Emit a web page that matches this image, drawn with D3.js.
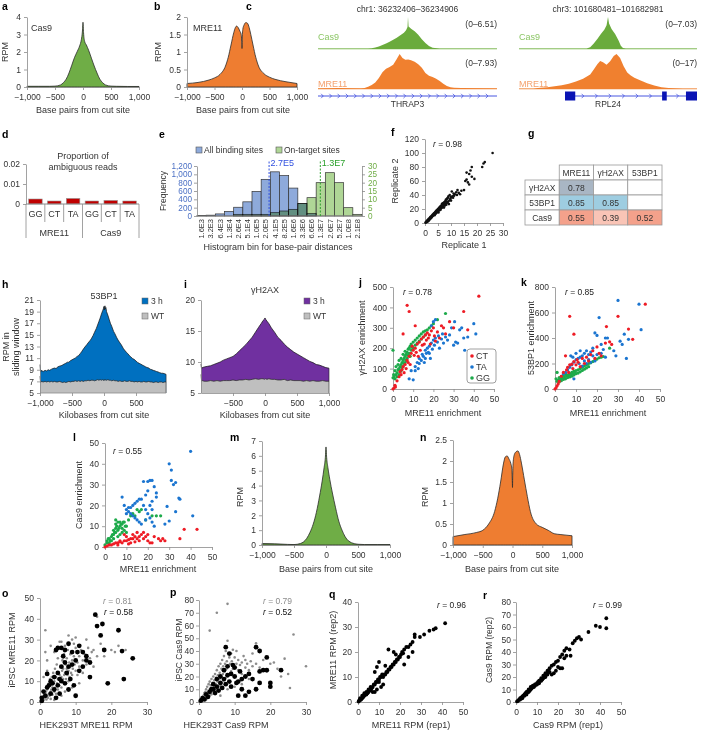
<!DOCTYPE html>
<html><head><meta charset="utf-8">
<script src="https://cdn.jsdelivr.net/npm/d3@7"></script>
<style>
body{margin:0;background:#fff}
svg{font-family:"Liberation Sans",Arial,sans-serif}
.ax .domain,.ax line{stroke:#8a8a8a;stroke-width:0.8}
.ax text{font-size:8.5px;fill:#333;font-family:"Liberation Sans",Arial,sans-serif}
.t{font-size:8.5px;fill:#333}
</style></head><body><script>
// ================= DATA =================
// a: Cas9 profile [bp, RPM]
const aCurve=[[-1000,0.04],[-800,0.04],[-600,0.04],[-500,0.05],[-400,0.12],[-350,0.25],[-300,0.45],[-250,0.8],[-200,1.25],[-150,1.7],[-100,2.05],[-60,2.35],[-30,2.7],[-10,3.2],[0,3.7],[10,3.1],[30,2.6],[60,2.4],[100,2.1],[150,1.65],[200,1.2],[250,0.8],[300,0.45],[350,0.25],[400,0.12],[500,0.05],[600,0.04],[800,0.03],[1000,0.03]];
// b: MRE11 profile
const bCurve=[[-1000,0.1],[-800,0.13],[-600,0.2],[-500,0.26],[-400,0.36],[-300,0.6],[-250,0.85],[-200,1.2],[-150,1.55],[-120,1.7],[-100,1.74],[-70,1.7],[-40,1.6],[-15,1.5],[-5,1.3],[0,1.1],[5,1.4],[15,1.65],[40,1.78],[70,1.84],[100,1.82],[130,1.7],[160,1.5],[200,1.2],[250,0.85],[300,0.6],[400,0.38],[500,0.28],[600,0.22],[800,0.15],[1000,0.1]];
// c: genome browser tracks [bp offset in 2,500-bp window, RPM]
const cTitles=["chr1: 36232406–36234906","chr3: 101680481–101682981"];
const cRanges=[["(0–6.51)","(0–7.93)"],["(0–7.03)","(0–17)"]];
const cMax=[[6.51,7.93],[7.03,17]];
const cGenes=["THRAP3","RPL24"];
const cCas1=[[0,0.1],[300,0.1],[500,0.12],[700,0.1],[750,0.15],[800,0.3],[850,0.5],[900,0.8],[950,1.1],[1000,1.5],[1050,1.9],[1100,2.3],[1150,2.8],[1200,3.3],[1230,3.8],[1250,4.5],[1257,6.51],[1265,4.6],[1300,4.1],[1350,3.6],[1400,2.9],[1450,2.0],[1500,1.2],[1550,0.6],[1600,0.25],[1700,0.12],[1900,0.1],[2200,0.12],[2500,0.1]];
const cMre1=[[0,0.15],[300,0.2],[600,0.15],[650,0.25],[700,0.5],[750,0.9],[800,1.5],[850,2.5],[900,3.8],[950,4.6],[1000,5.0],[1050,5.5],[1100,6.8],[1140,7.93],[1180,7.0],[1220,6.6],[1260,6.7],[1300,6.5],[1350,6.2],[1400,5.6],[1450,4.8],[1500,3.6],[1550,3.0],[1600,2.7],[1650,2.3],[1700,1.8],[1750,1.2],[1800,0.7],[1850,0.4],[1900,0.3],[2000,0.2],[2500,0.15]];
const cCas2=[[0,0.1],[500,0.12],[950,0.1],[1000,0.4],[1050,1.2],[1100,2.2],[1150,3.3],[1200,4.3],[1230,5.2],[1250,7.03],[1265,5.6],[1300,4.4],[1350,3.3],[1400,1.8],[1430,0.7],[1460,0.2],[1500,0.1],[2000,0.12],[2500,0.1]];
const cMre2=[[0,0.2],[200,0.3],[300,0.6],[400,0.9],[500,1.3],[600,1.8],[700,2.6],[800,3.6],[900,5.0],[1000,7.0],[1050,9.5],[1100,12.0],[1140,13.6],[1180,13.0],[1230,11.8],[1280,13.5],[1330,16.0],[1370,17.0],[1420,15.0],[1470,11.0],[1520,8.0],[1570,6.5],[1620,5.5],[1700,4.2],[1800,2.8],[1900,1.7],[2000,0.9],[2100,0.5],[2200,0.35],[2300,0.3],[2500,0.25]];
const cGene2Span=[646,2500];
const cGene2Exons=[[646,790],[2010,2075],[2345,2500]];
// d
const dCats=["GG","CT","TA","GG","CT","TA"];
const dGroups=["MRE11","Cas9"];
const dVals=[0.0025,0.0015,0.0028,0.0015,0.0018,0.0015];
// e
const eBins=["1.6E3","3.2E3","6.4E3","1.3E4","2.6E4","5.1E4","1.0E5","2.0E5","4.1E5","8.2E5","1.6E6","3.3E6","6.6E6","1.3E7","2.6E7","5.2E7","1.0E8","2.1E8"];
const eFirstBin=1638.4;
const eAll=[10,20,50,110,210,340,590,880,1060,970,670,300,60,0,0,0,0,0];
const eOn=[0,0,0,0,1,1,1,1,2,3,4,7.5,11,20,26,20,5,1];
const eMarks=[["2.7E5",2.7e5],["1.3E7",1.3e7]];
// f
const fPts=[[0.2,0.5],[0.4,1],[0.5,2],[0.7,1.5],[0.8,3],[1,2],[1,4],[1.2,5],[1.3,3],[1.5,4],[1.5,6],[1.7,5],[1.8,7],[2,6],[2,8],[2.2,9],[2.3,7],[2.5,8],[2.5,10],[2.7,9],[2.8,11],[3,10],[3,12],[3.2,11],[3.3,13],[3.5,12],[3.5,14],[3.7,11],[3.8,15],[4,13],[4,16],[4.2,14],[4.3,17],[4.5,15],[4.5,18],[4.7,16],[4.8,19],[5,17],[5,20],[5.2,15],[5.3,21],[5.5,18],[5.5,22],[5.7,20],[5.8,23],[6,19],[6,24],[6.2,21],[6.3,25],[6.5,22],[6.5,27],[6.7,23],[6.8,28],[7,24],[7,26],[7.2,29],[7.3,22],[7.5,27],[7.5,30],[7.7,25],[7.8,31],[8,28],[8,33],[8.2,26],[8.3,34],[8.5,30],[8.5,35],[8.7,29],[8.8,36],[9,31],[9,38],[9.2,27],[9.5,33],[9.5,40],[9.8,35],[10,32],[10,37],[10.3,45],[10.5,38],[10.8,36],[11,42],[11.2,39],[11.5,41],[12,44],[12.3,40],[12.5,47],[13,43],[13.5,41],[14,46],[15,47],[15.5,60],[16,62],[16,72],[16.5,58],[17,55],[17,70],[17.5,75],[18,66],[18,80],[19,63],[22,80],[22.5,85],[23,87],[26,100]];
// g
const gCols=["MRE11","γH2AX","53BP1"];
const gRows=["γH2AX","53BP1","Cas9"];
const gVals=[[0.78,null,null],[0.85,0.85,null],[0.55,0.39,0.52]];
// h: [kb, 3 h, WT]
const hData=[[-1000,9.9,7.9],[-995,9.2,7.3],[-990,8.6,6.8],[-980,8.9,7.0],[-950,8.7,6.9],[-920,8.9,7.0],[-900,8.8,6.9],[-870,9.0,7.0],[-850,8.9,6.9],[-820,9.1,7.0],[-800,9.2,6.9],[-770,9.3,7.0],[-750,9.2,6.9],[-720,9.5,6.9],[-700,9.6,7.0],[-670,9.7,6.9],[-650,9.8,6.8],[-620,10.0,6.9],[-600,10.1,6.8],[-570,10.3,6.9],[-550,10.3,7.0],[-520,10.6,6.9],[-500,10.7,7.0],[-470,10.9,7.0],[-450,11.0,7.1],[-420,11.3,7.0],[-400,11.4,7.1],[-370,11.8,7.0],[-350,12.1,7.1],[-320,12.6,7.0],[-300,12.9,7.1],[-270,13.3,7.1],[-250,13.6,7.2],[-220,14.0,7.1],[-200,14.3,7.2],[-170,14.9,7.2],[-150,15.4,7.1],[-120,16.1,7.2],[-100,16.7,7.3],[-80,17.3,7.2],[-60,17.9,7.3],[-40,18.6,7.2],[-20,19.2,7.3],[-10,19.5,7.2],[0,19.9,7.2],[5,19.3,7.3],[10,19.6,7.2],[15,20.0,7.2],[20,19.5,7.3],[30,19.7,7.2],[40,19.0,7.2],[60,18.4,7.3],[80,17.7,7.2],[100,17.0,7.2],[120,16.5,7.1],[150,15.6,7.2],[170,15.2,7.1],[200,14.5,7.1],[220,14.1,7.0],[250,13.6,7.1],[270,13.3,7.0],[300,12.7,7.0],[320,12.4,7.1],[350,12.0,7.0],[370,11.8,7.0],[400,11.4,7.1],[420,11.2,7.0],[450,10.9,7.0],[470,10.8,6.9],[500,10.5,7.0],[520,10.3,6.9],[550,10.1,7.0],[570,10.0,6.9],[600,9.8,6.9],[620,9.7,7.0],[650,9.5,6.9],[670,9.4,6.9],[700,9.3,7.0],[720,9.1,6.9],[750,9.0,6.9],[770,8.9,6.8],[800,8.8,6.9],[820,8.7,6.9],[850,8.6,6.8],[870,8.5,6.9],[900,8.4,6.9],[920,8.4,6.8],[950,8.3,6.9],[970,8.2,6.9]];
// i: [kb, 3 h, WT]
const iData=[[-1000,9.7,8.0],[-995,9.2,7.4],[-990,8.9,6.9],[-980,9.1,7.0],[-950,9.2,6.9],[-900,9.3,6.9],[-850,9.4,7.0],[-800,9.6,6.9],[-750,9.8,7.0],[-700,10.0,6.9],[-650,10.3,7.0],[-600,10.5,7.0],[-550,10.7,7.0],[-500,10.9,7.1],[-450,11.3,7.0],[-400,11.8,7.1],[-350,12.3,7.1],[-300,12.8,7.2],[-250,13.4,7.1],[-200,14.0,7.2],[-150,14.8,7.3],[-100,15.6,7.2],[-60,16.2,7.3],[-30,16.7,7.3],[-10,16.9,7.2],[0,17.1,7.3],[10,16.9,7.3],[30,16.6,7.2],[60,16.2,7.3],[100,15.5,7.2],[150,14.8,7.2],[200,14.0,7.1],[250,13.5,7.1],[300,12.9,7.2],[350,12.4,7.0],[400,12.0,7.1],[450,11.6,7.0],[500,11.3,7.0],[550,11.0,7.0],[600,10.7,6.9],[650,10.4,7.0],[700,10.1,6.9],[750,9.9,7.0],[800,9.6,6.9],[850,9.5,6.9],[900,9.3,7.0],[950,9.1,6.9],[1000,9.0,6.9]];
// j: MRE11 vs γH2AX enrichment
const jCT=[[0,0],[0.5,5],[1,18],[1.2,10],[2,40],[3,60],[3.5,85],[4,70],[4.5,95],[5,270],[5,110],[5.5,80],[6,120],[6.5,100],[7,410],[7,140],[7.5,130],[8,380],[8,160],[8.5,120],[9,175],[9.5,210],[10,190],[10.5,165],[11,310],[11,200],[11.5,180],[12,220],[12.5,160],[13,230],[13.5,190],[14,245],[14.5,215],[15,255],[15.5,220],[16,265],[16.5,240],[17,275],[17.5,250],[18,265],[18.5,220],[19,285],[20,300],[20.5,260],[21,235],[22,280],[23,250],[24,310],[25,300],[26,270],[28,330],[30,300],[35,380],[37,290],[42.5,455]];
const jTA=[[8,50],[9,90],[10,45],[11,110],[12,130],[12.5,100],[13,150],[14,140],[14.5,170],[15,160],[15.5,130],[16,190],[16.5,175],[17,200],[17.5,180],[18,210],[18.5,150],[19,225],[19.5,195],[20,240],[20.5,215],[21,250],[21,340],[22,230],[22.5,260],[23,200],[24,245],[24.5,270],[25,225],[26,255],[27,240],[28,265],[29,300],[30,215],[30.5,330],[31,230],[32,225],[33,290],[34,300],[35,250],[35.5,190],[37,255],[40,320],[41,270],[20,330],[19,310],[13,125],[11,90],[16,150],[18,175]];
const jGG=[[0,190],[0,55],[0.3,70],[0.5,60],[1,50],[1,90],[1.5,70],[1.5,110],[2,80],[2,60],[2.5,95],[2.5,120],[3,100],[3,70],[3,140],[3.5,110],[3.5,85],[4,120],[4,90],[4,150],[4.5,130],[4.5,105],[5,140],[5,110],[5,170],[5.5,150],[5.5,125],[6,160],[6,130],[6,185],[6.5,170],[6.5,140],[7,180],[7,150],[7.5,195],[7.5,165],[8,200],[8,175],[8.5,210],[8.5,160],[9,220],[9,190],[9.5,205],[10,230],[10,200],[11,240],[11,215],[12,250],[12,225],[13,260],[13,235],[14,270],[14,245],[15,280],[15,255],[16,285],[16,265],[17,290],[18,300],[19,310],[20,320],[22,340],[26,370]];
// k: MRE11 vs 53BP1 enrichment
const kCT=[[0,0],[0.5,10],[1,25],[1.5,40],[2,60],[3,100],[4,130],[5,260],[5.5,150],[6,170],[6.5,130],[7,570],[7,190],[8,195],[8.5,160],[9,430],[9,215],[10,190],[10.5,230],[11,210],[12,175],[13,240],[14,200],[15,250],[16,220],[17,270],[18,300],[19,240],[20,330],[21,280],[22,260],[24,360],[24.5,490],[26,370],[27,350],[30,570],[35,470],[37,390],[43,665]];
const kTA=[[4,120],[5,130],[6,150],[7,170],[7.5,260],[8,190],[8.5,250],[9,80],[9,210],[10,230],[10,280],[11,240],[11.5,200],[12,250],[12,300],[13,260],[13,180],[14,280],[14,220],[15,300],[15,200],[16,270],[16,230],[17,290],[17,210],[18,320],[18,260],[19,440],[19,220],[20,420],[20,270],[21,560],[22,350],[22,280],[23,310],[24,400],[24,250],[25,400],[28,300],[29,260],[30,695],[31,375],[32,350],[33,430],[34,240],[35,390],[40,665],[41,465]];
const kGG=[[0.5,80],[1,130],[1,60],[1.5,70],[2,90],[2,55],[2.5,75],[3,100],[3,65],[3.5,85],[4,110],[4,75],[4.5,95],[5,120],[5,80],[5.5,105],[6,110],[6,90],[6.5,100],[7,120],[7,95],[7.5,110],[8,130],[8,100],[8.5,120],[9,140],[9,110],[9.5,130],[10,145],[10,120],[11,150],[11,125],[12,160],[12,135],[13,170],[13,145],[14,180],[14,155],[15,190],[15,165],[16,200],[16,175],[17,205],[18,215],[19,225],[20,235],[21,245],[22,250],[23,255],[26,320]];
// l: MRE11 vs Cas9 enrichment
const lTA=[[8,24],[9,20],[10,18],[10,16],[11,19],[11,17],[12,19],[12,16],[13,20],[13,15],[14,21],[14,14],[15,22],[15,13],[16,23],[16,12],[17,23],[17,11],[18,31.5],[18,20],[19,25],[19,18],[19,13],[20,31.5],[20,27],[20,16],[21,32],[21,20],[21,14],[22,32],[22,22],[22,18],[22,12],[23,29],[23,10],[24,26],[24,24],[28,11],[29,19.5],[30,40],[30,12.5],[31,37],[31,32],[32,30],[33,31],[33,17],[34.5,23.5],[35,23],[40,46],[41,15]];
const lGG=[[0,1],[1,2],[1,3],[1.5,4],[2,2],[2,4],[2.5,3],[3,3],[3,5],[3.5,6],[4,4],[4,6],[4,8],[4.5,7],[5,7],[5,9],[5,11],[5,13],[5.5,10],[6,5],[6,8],[6,12],[6.5,9],[7,6],[7,10],[7,12],[7.5,11],[8,7],[8,9],[8,11],[8.5,12],[9,8],[9,12],[9.5,10],[10,7],[10,10],[11,13],[12,15],[13,16],[14,15],[15,18],[16,17],[17,18],[19,13],[22,15],[24,15],[26,15]];
const lCT=[[0,0],[1,0.5],[2,1],[3,1],[4,1.5],[5,2],[6,1],[6,2],[7,2.5],[7,3],[8,2],[9,3],[9,6],[10,3],[10,5],[11,1.5],[11,3.5],[12,2],[12,4],[13,4],[13,6],[14,2.5],[14,5],[15,4],[15,7],[16,3],[16,5],[17,6],[18,4],[18,7],[19,5],[20,3],[20,6],[21,2],[22,2],[23,5],[25,4],[26,3],[27,4],[28,3],[35,4],[37,8.5],[43,8.5]];
// m, n: profiles
const mCurve=[[-1000,0.1],[-800,0.08],[-600,0.04],[-500,0.03],[-400,0.1],[-300,0.45],[-250,0.85],[-200,1.4],[-150,2.2],[-100,3.3],[-60,4.3],[-30,5.2],[-10,5.9],[0,6.6],[10,5.9],[30,5.2],[60,4.4],[100,3.5],[150,2.5],[200,1.6],[250,1.0],[300,0.55],[400,0.15],[500,0.05],[600,0.03],[800,0.03],[1000,0.03]];
const nCurve=[[-1000,0.2],[-800,0.25],[-700,0.27],[-600,0.3],[-500,0.35],[-400,0.5],[-300,0.8],[-250,1.1],[-200,1.5],[-150,1.95],[-120,2.1],[-90,2.12],[-60,2.05],[-30,1.95],[-10,1.8],[-3,1.5],[0,1.37],[3,1.6],[10,1.95],[30,2.15],[60,2.22],[90,2.24],[120,2.15],[150,1.95],[200,1.55],[250,1.15],[300,0.8],[400,0.5],[500,0.42],[600,0.35],[700,0.27],[800,0.25],[1000,0.22]];
// o: HEK293T vs iPSC MRE11 RPM
const oGrey=[[0.2,0.3],[0.4,0.8],[0.5,1.5],[0.7,0.5],[0.8,2],[1,1],[1,3],[1.2,1.8],[1.3,4],[1.5,2.5],[1.5,34.5],[1.5,24],[1.7,5],[1.8,1.2],[2,3],[2,6],[2,20],[2.2,2],[2.3,7],[2.5,4],[2.5,9],[2.7,3],[2.8,11],[3,5],[3,8],[3,27],[3.2,6],[3.3,12],[3.5,3.5],[3.5,7],[3.7,14],[3.8,9],[4,5],[4,10],[4,24],[4.2,16],[4.3,7],[4.5,12],[4.5,4],[4.7,18],[4.8,9],[5,6],[5,11],[5,21],[5.2,14],[5.3,8],[5.5,13],[5.5,29],[5.7,17],[5.8,10],[6,7],[6,12],[6,29],[6.2,15],[6.3,20],[6.5,11],[6.5,16],[6.7,23],[6.8,13],[7,9],[7,14],[7,27],[7.2,18],[7.3,11],[7.5,16],[7.5,21],[7.7,13],[7.8,25],[8,10],[8,15],[8,32],[8.2,19],[8.3,12],[8.5,17],[8.5,23],[8.7,14],[9,13],[9,20],[9,30],[9.2,16],[9.5,22],[9.5,28],[9.7,18],[10,15],[10,26],[10,31],[10.5,19],[10.5,13],[11,22],[11,17],[11.5,25],[12,20],[12,14],[12.5,23],[13,18],[13,30],[13.5,26],[14,21],[14.5,24],[15,25],[15,17],[16,41],[16,22],[17,28],[18,22],[20,25],[21,24],[22,27],[24,25],[4,1],[3,1.5],[6,3],[7,5],[9,7],[11,9],[2,15],[1,12]];
const oBlack=[[0.5,0.5],[0.5,2],[1,5],[1.5,3],[2,7],[2,13.5],[2.5,8],[3,4],[3,10],[3.5,9],[4,6],[4,12],[4.5,2],[4.5,25],[5,8],[5,14],[5,26],[5.5,4],[5.5,11],[6,10],[6,17],[6,26],[6.5,22],[7,9],[7,19],[7,25],[7.5,14],[8,6],[8,17],[8,28],[8.5,11],[9,18],[9,24],[9.5,8],[10,3],[10,20],[10.5,24],[11,15],[11,27],[12,17],[12,24],[13,20],[13,22],[14,12],[14,19],[15.5,42],[16,36.5],[17,32],[17.5,37.5],[18,25],[19,9],[22,34.5],[23,24.5],[23.5,11],[26,21]];
// p: HEK293T vs iPSC Cas9 RPM
const pGrey=[[0.2,0.3],[0.4,1],[0.5,2],[0.7,0.5],[0.8,3],[1,1.5],[1,4],[1.2,2.5],[1.3,5],[1.5,3],[1.5,7],[1.7,4],[1.8,8],[2,2],[2,5],[2,10],[2.2,6],[2.3,12],[2.5,4],[2.5,8],[2.7,14],[2.8,7],[3,5],[3,10],[3,16],[3,56],[3.2,9],[3.3,13],[3.5,6],[3.5,18],[3.7,11],[3.8,15],[4,8],[4,20],[4.2,12],[4.3,17],[4.5,9],[4.5,22],[4.7,14],[4.8,19],[5,10],[5,25],[5,70],[5.2,16],[5.3,21],[5.5,12],[5.5,28],[5.7,18],[5.8,23],[6,13],[6,30],[6.2,20],[6.3,26],[6.5,15],[6.5,33],[6.7,22],[6.8,28],[7,17],[7,36],[7.2,24],[7.3,30],[7.5,19],[7.5,40],[7.7,26],[7.8,32],[8,20],[8,48],[8,77],[8.2,28],[8.5,35],[8.5,22],[8.7,30],[9,24],[9,38],[9.2,32],[9.5,26],[9.5,41],[10,28],[10,35],[10.5,30],[10.5,40],[11,25],[11,33],[11.5,29],[12,31],[12,22],[12.5,36],[13,27],[13,33],[13.5,30],[14,25],[14.5,32],[15,28],[15,38],[16,46],[16,30],[17,27],[18,33],[19,24],[20,30],[21,31],[22,26],[23,20],[24,34],[25,22],[25.5,11],[26.5,53],[30,28],[6,5],[8,10],[10,12],[12,14],[14,18]];
const pBlack=[[0.5,1],[1,3],[1.5,2],[2,6],[2.5,4],[3,8],[3.5,10],[4,10],[4,14],[4.5,7],[5,12],[5,18],[5.5,9],[6,15],[6,20],[6.5,11],[7,18],[7,25],[7.5,43],[7.5,14],[8,21],[8,28],[8.5,38],[8.5,16],[9,22],[9,12],[9.5,29],[10,20],[10,27],[10.5,15],[11,16],[11,5],[11.5,24],[12,18],[12,10],[13,20],[13,5],[14,8],[14,22],[15,18],[16,10],[16,43],[17,15],[17,24],[17,40],[18,25],[19,35],[19,25],[20,15],[20,12],[23,25]];
// q, r: replicates
const qPts=[[0.3,0.2],[0.5,0.5],[1,0.8],[1,1.5],[1.5,1],[2,1.5],[2,2.5],[2.5,2],[3,2.5],[3,3.5],[3.5,3],[4,3],[4,4],[4.5,3.5],[5,4],[5,5],[5.5,4.5],[6,5],[6,6],[6.5,5.5],[7,6],[7,4],[7.5,7],[8,7],[8,4],[8,12],[8.5,8],[9,8],[9,5],[9,14],[9.5,9],[10,9],[10,16],[10,8],[10.5,10],[11,10],[11,6],[11.5,11],[12,10],[12,7],[12.5,11],[13,11],[13,14.5],[13.5,12],[14,12],[14.5,21],[14.5,13],[15,13],[15.5,14],[16,14],[16.5,15],[17,15],[17,20],[17.5,16],[18,16],[18,19],[18.5,17],[19,17],[19.5,18],[20,18],[20.5,19],[21,20],[21.5,19.5],[22,21],[22,15],[23,22],[24,22],[24,18],[25,23],[26,24],[26,20],[27,26],[27,27],[29.5,26],[31.5,27],[34,28.5],[36,29],[37,29.5],[41.5,31.5]];
const rPts=[[0.5,0.5],[1,1],[1.5,2],[2,2],[2,3],[2.5,3.5],[3,3],[3,4.5],[3.5,5],[4,5],[4,6],[4.5,7],[5,6],[5,8],[5.5,8],[6,8],[6,10],[6.5,9],[7,10],[7,12],[7.5,11],[8,12],[8,13],[8.5,12],[9,13],[9,14],[9.5,14],[10,15],[10,14],[10.5,16],[11,17],[11,15],[11.5,17],[12,19],[12,17],[12.5,18],[13,21],[13,19],[13.5,20],[14,23],[14,20],[14.5,22],[15,25],[15,22],[15.5,24],[16,27],[16,24],[17,29],[17,22],[18,30],[18,23],[19,32],[19,25],[20,33],[20,28],[21,36],[21,27],[22,38],[22,27],[23,41],[23,35],[24,43],[24,37],[25.5,42],[26,37],[27,47],[28,49],[29,51],[30,52],[31,50],[34.5,56],[38,61],[40,60],[43,67],[43,59]];
const rVals={f:"0.98",j:"0.78",k:"0.85",l:"0.55",o:["0.81","0.58"],p:["0.79","0.52"],q:"0.96",r:"0.99"};

// ================= DRAWING =================
const C={green:"#6fad46",orange:"#ee7d31",blue:"#0070c0",purple:"#7030a0",grey:"#bfbfbf",ct:"#ee1c25",ta:"#1b75d0",gg:"#1caa4a"};
const svg=d3.select("body").append("svg").attr("width",706).attr("height",731);
svg.append("rect").attr("width",706).attr("height",731).attr("fill","#fff");
const fmt=d3.format(",");
function axL(y,x0,ticks,o={}){const a=d3.axisLeft(y).tickValues(ticks).tickSize(o.ts??3).tickSizeOuter(0).tickPadding(o.tp??3).tickFormat(o.f||fmt);
  const g=svg.append("g").attr("class","ax").attr("transform",`translate(${x0},0)`).call(a); if(o.c)g.selectAll("text").style("fill",o.c); if(o.s)g.selectAll("text").style("font-size",o.s+"px"); return g;}
function axR(y,x0,ticks,o={}){const a=d3.axisRight(y).tickValues(ticks).tickSize(3).tickSizeOuter(0).tickPadding(3).tickFormat(o.f||fmt);
  const g=svg.append("g").attr("class","ax").attr("transform",`translate(${x0},0)`).call(a); if(o.c)g.selectAll("text").style("fill",o.c); if(o.s)g.selectAll("text").style("font-size",o.s+"px"); return g;}
function axB(x,y0,ticks,o={}){const a=d3.axisBottom(x).tickValues(ticks).tickSize(3).tickSizeOuter(0).tickPadding(o.tp??4).tickFormat(o.f||fmt);
  return svg.append("g").attr("class","ax").attr("transform",`translate(0,${y0})`).call(a);}
function T(x,y,s,o={}){
  let t;
  if(o.r){const g=svg.append("g").attr("transform",`translate(${x},${y}) rotate(-90)`); t=g.append("text").attr("x",0).attr("y",0);}
  else t=svg.append("text").attr("x",x).attr("y",y);
  t.attr("class","t").text(s);
  if(o.a)t.attr("text-anchor",o.a); if(o.c)t.style("fill",o.c); if(o.s)t.style("font-size",o.s+"px");
  if(o.w)t.style("font-weight",o.w); return t;}
function L(x,y,s){T(x,y,s,{w:"bold",s:10.5,c:"#000"});}
function R(x,y,v,c){const t=svg.append("text").attr("x",x).attr("y",y).attr("class","t").style("fill",c||"#222");
  t.append("tspan").style("font-style","italic").text("r"); t.append("tspan").text(" = "+v);}
function dots(data,x,y,r,col){svg.append("g").selectAll("circle").data(data).join("circle")
  .attr("cx",d=>x(d[0])).attr("cy",d=>y(d[1])).attr("r",r).attr("fill",col);}
function profile(data,x,y,fill){const ar=d3.area().x(d=>x(d[0])).y0(y(0)).y1(d=>y(d[1])).curve(d3.curveMonotoneX);
  svg.append("path").attr("d",ar(data)).attr("fill",fill).attr("stroke","#2a2a2a").attr("stroke-width",0.8);}

// ---- a ----
{const x=d3.scaleLinear([-1000,1000],[27,139]),y=d3.scaleLinear([0,4],[87,17]);
 profile(aCurve,x,y,C.green); axL(y,27,[0,1,2,3,4]); axB(x,87,[-1000,-500,0,500,1000]);
 L(2,10,"a"); T(31,31,"Cas9",{s:9}); T(8,52,"RPM",{a:"middle",r:1,s:9}); T(83,113,"Base pairs from cut site",{a:"middle",s:9});}
// ---- b ----
{const x=d3.scaleLinear([-1000,1000],[187,297]),y=d3.scaleLinear([0,2],[87,17]);
 profile(bCurve,x,y,C.orange); axL(y,187,[0,0.5,1,1.5,2]); axB(x,87,[-1000,-500,0,500,1000]);
 L(154,10,"b"); T(193,31,"MRE11",{s:9}); T(161,52,"RPM",{a:"middle",r:1,s:9}); T(243,113,"Base pairs from cut site",{a:"middle",s:9});}
// ---- c ----
{L(246,10,"c");
 const tracks=[{x0:318,x1:497,cas:cCas1,mre:cMre1},{x0:519,x1:697,cas:cCas2,mre:cMre2}];
 tracks.forEach((tr,k)=>{
  const x=d3.scaleLinear([0,2500],[tr.x0,tr.x1]);
  const yc=d3.scaleLinear([0,cMax[k][0]],[49,17]), ym=d3.scaleLinear([0,cMax[k][1]],[89,54]);
  const mk=(yy)=>d3.area().x(d=>x(d[0])).y0(yy(0)).y1(d=>yy(d[1]));
  svg.append("line").attr("x1",x(0)).attr("x2",x(2500)).attr("y1",yc(0)).attr("y2",yc(0)).attr("stroke","#b9dca0").attr("stroke-width",1.2);
  svg.append("line").attr("x1",x(0)).attr("x2",x(2500)).attr("y1",ym(0)).attr("y2",ym(0)).attr("stroke","#f6c19c").attr("stroke-width",1.2);
  svg.append("path").attr("d",mk(yc)(tr.cas)).attr("fill","#6aab3c");
  svg.append("path").attr("d",mk(ym)(tr.mre)).attr("fill","#f0802f");
  const mid=(tr.x0+tr.x1)/2;
  T(mid,12,cTitles[k],{a:"middle",s:8.5});
  T(tr.x1,27,cRanges[k][0],{a:"end",s:8.5}); T(tr.x1,66,cRanges[k][1],{a:"end",s:8.5});
  T(tr.x0,40,"Cas9",{c:"#8cc666",s:9}); T(tr.x0,87,"MRE11",{c:"#f4a06c",s:9});
  T(mid,107,cGenes[k],{a:"middle",s:8.5});
  const span=k===0?[0,2500]:cGene2Span;
  svg.append("line").attr("x1",x(span[0])).attr("x2",x(span[1])).attr("y1",96).attr("y2",96).attr("stroke","#3344dd").attr("stroke-width",0.9);
  const chev=d3.range(span[0]+60,span[1]-40,k===0?115:190);
  svg.append("g").selectAll("path").data(chev).join("path").attr("d",d=>`M${x(d)-1.2},93.8L${x(d)+1},96L${x(d)-1.2},98.2`).attr("fill","none").attr("stroke","#3344dd").attr("stroke-width",0.7);
  if(k===1) svg.append("g").selectAll("rect").data(cGene2Exons).join("rect").attr("x",d=>x(d[0])).attr("width",d=>x(d[1])-x(d[0])).attr("y",91.5).attr("height",9).attr("fill","#0a14b4");
 });}
// ---- d ----
{L(2,138,"d");
 const x=d3.scaleBand(d3.range(dCats.length),[26,139]),y=d3.scaleLinear([0,0.02],[204,164]);
 T(83,159,"Proportion of",{a:"middle",s:9}); T(83,170,"ambiguous reads",{a:"middle",s:9});
 axL(y,26,[0,0.01,0.02],{f:d=>d===0?"0":d3.format(".2f")(d)});
 svg.append("g").selectAll("rect").data(dVals).join("rect").attr("x",(d,i)=>x(i)+x.bandwidth()*0.14).attr("width",x.bandwidth()*0.72)
  .attr("y",d=>y(d)).attr("height",d=>y(0)-y(d)).attr("fill","#c00000").attr("stroke","#9a9a9a").attr("stroke-width",0.6);
 svg.append("line").attr("x1",26).attr("x2",139).attr("y1",204).attr("y2",204).attr("stroke","#8a8a8a");
 d3.range(dCats.length+1).forEach(i=>{const xx=i<dCats.length?x(i):x(dCats.length-1)+x.bandwidth();
  svg.append("line").attr("x1",xx).attr("x2",xx).attr("y1",204).attr("y2",i%3===0?238:222).attr("stroke","#8a8a8a").attr("stroke-width",0.8);});
 dCats.forEach((c,i)=>T(x(i)+x.bandwidth()/2,217,c,{a:"middle",s:9}));
 dGroups.forEach((g,i)=>T(x(i*3)+x.bandwidth()*1.5,236,g,{a:"middle",s:9}));}
// ---- e ----
{L(159,138,"e");
 const x=d3.scaleBand(eBins,[197,362]),bw=x.bandwidth();
 const yl=d3.scaleLinear([0,1200],[216,166]),yr=d3.scaleLinear([0,30],[216,166]);
 const xl=d3.scaleLog().base(2).domain([eFirstBin/Math.SQRT2,eFirstBin*2**(eBins.length-1)*Math.SQRT2]).range([197,362]);
 svg.append("g").selectAll("rect").data(eAll).join("rect").attr("x",(d,i)=>x(eBins[i])).attr("width",bw).attr("y",d=>yl(d)).attr("height",d=>yl(0)-yl(d))
  .attr("fill","#8eaadb").attr("stroke","#333").attr("stroke-width",0.7);
 svg.append("g").style("mix-blend-mode","multiply").selectAll("rect").data(eOn).join("rect").attr("x",(d,i)=>x(eBins[i])).attr("width",bw).attr("y",d=>yr(d)).attr("height",d=>yr(0)-yr(d))
  .attr("fill","#afd696").attr("stroke","#333").attr("stroke-width",0.7);
 axL(yl,197,[0,200,400,600,800,1000,1200],{c:"#4a6fc4",s:8.2,tp:2});
 axR(yr,362,[0,5,10,15,20,25,30],{c:"#70ad47",s:8.2});
 svg.append("line").attr("x1",197).attr("x2",362).attr("y1",216).attr("y2",216).attr("stroke","#8a8a8a");
 eBins.forEach(b=>T(x(b)+bw/2+2.6,219,b,{a:"end",s:7.5,r:1}));
 const cols=["#3050e0","#2aa02a"];
 eMarks.forEach((m,i)=>{const xx=xl(m[1]);
  svg.append("line").attr("x1",xx).attr("x2",xx).attr("y1",216).attr("y2",161).attr("stroke",cols[i]).attr("stroke-width",1).attr("stroke-dasharray","2,1.5");
  T(xx+1.5,166,m[0],{c:cols[i],s:9});});
 svg.append("rect").attr("x",196).attr("y",147).attr("width",6).attr("height",6).attr("fill","#8eaadb").attr("stroke","#555").attr("stroke-width",0.6);
 T(204,153,"All binding sites",{s:8.5});
 svg.append("rect").attr("x",276).attr("y",147).attr("width",6).attr("height",6).attr("fill","#afd696").attr("stroke","#555").attr("stroke-width",0.6);
 T(284,153,"On-target sites",{s:8.5});
 T(166,191,"Frequency",{a:"middle",r:1,s:8.5});
 T(278,250,"Histogram bin for base-pair distances",{a:"middle",s:9});}
// ---- f ----
{L(391,136,"f");
 const x=d3.scaleLinear([0,30],[425,503]),y=d3.scaleLinear([0,120],[223,139]);
 axL(y,425,[0,20,40,60,80,100,120]); axB(x,223,[0,5,10,15,20,25,30]);
 dots(fPts,x,y,1.3,"#111"); R(433,147,rVals.f);
 T(464,248,"Replicate 1",{a:"middle",s:9}); T(398,181,"Replicate 2",{a:"middle",r:1,s:9});}
// ---- g ----
{L(528,137,"g");
 const x=d3.scaleBand(["",...gCols],[525,662]),y=d3.scaleBand(["",...gRows],[165,225]);
 const col=(r,v)=>r==="Cas9"?(v<0.45?"#f9c4b6":"#f4a18b"):(v<0.8?"#a9b6c4":"#9ecde1");
 gCols.forEach(c=>{svg.append("rect").attr("x",x(c)).attr("y",y("")).attr("width",x.bandwidth()).attr("height",y.bandwidth()).attr("fill","#fff").attr("stroke","#999").attr("stroke-width",0.8);
  T(x(c)+x.bandwidth()/2,y("")+11,c,{a:"middle",s:8.5});});
 gRows.forEach((r,i)=>{svg.append("rect").attr("x",x("")).attr("y",y(r)).attr("width",x.bandwidth()).attr("height",y.bandwidth()).attr("fill","#fff").attr("stroke","#999").attr("stroke-width",0.8);
  T(x("")+x.bandwidth()/2,y(r)+11,r,{a:"middle",s:8.5});
  gCols.forEach((c,j)=>{const v=gVals[i][j];
   svg.append("rect").attr("x",x(c)).attr("y",y(r)).attr("width",x.bandwidth()).attr("height",y.bandwidth()).attr("fill",v==null?"#fff":col(r,v)).attr("stroke","#999").attr("stroke-width",0.8);
   if(v!=null)T(x(c)+x.bandwidth()/2,y(r)+11,v.toFixed(2),{a:"middle",s:8.5});});});}
// ---- h / i ----
function blockProfile(data,x,y,col){
 const top=d3.area().x(d=>x(d[0])).y0(y.range()[0]).y1(d=>y(d[1]));
 const wt=d3.area().x(d=>x(d[0])).y0(y.range()[0]).y1(d=>y(d[2]));
 svg.append("path").attr("d",top(data)).attr("fill",col);
 svg.append("path").attr("d",d3.line().x(d=>x(d[0])).y(d=>y(d[1]))(data)).attr("fill","none").attr("stroke","#111").attr("stroke-width",0.7);
 svg.append("path").attr("d",wt(data)).attr("fill",C.grey);
 svg.append("path").attr("d",d3.line().x(d=>x(d[0])).y(d=>y(d[2]))(data)).attr("fill","none").attr("stroke","#222").attr("stroke-width",0.7);
 const last=data[data.length-1];
 svg.append("line").attr("x1",x(last[0])).attr("x2",x(last[0])).attr("y1",y(last[1])).attr("y2",y.range()[0]).attr("stroke","#222").attr("stroke-width",0.6);
}
function legend(x0,col){
 svg.append("rect").attr("x",x0).attr("y",298).attr("width",6).attr("height",6).attr("fill",col).attr("stroke","#666").attr("stroke-width",0.5);
 T(x0+9,304,"3 h",{s:8.5});
 svg.append("rect").attr("x",x0).attr("y",313).attr("width",6).attr("height",6).attr("fill",C.grey).attr("stroke","#666").attr("stroke-width",0.5);
 T(x0+9,319,"WT",{s:8.5});}
{L(2,288,"h");
 const x=d3.scaleLinear([-1000,1000],[40,168]),y=d3.scaleLinear([5,21],[393,300]);
 blockProfile(hData,x,y,C.blue);
 axL(y,40,[5,7,9,11,13,15,17,19,21]);
 svg.append("g").attr("class","ax").attr("transform","translate(0,393)").call(d3.axisBottom(x).tickValues([-1000,-500,0,500]).tickSize(3).tickSizeOuter(0).tickPadding(4).tickFormat(fmt)).select(".domain").attr("d","M40,0H"+x(970));
 T(104,299,"53BP1",{a:"middle",s:9}); legend(142,C.blue);
 T(9,347,"RPM in",{a:"middle",r:1,s:9}); T(18.5,347,"sliding window",{a:"middle",r:1,s:9});
 T(104,418,"Kilobases from cut site",{a:"middle",s:9});}
{L(184,288,"i");
 const x=d3.scaleLinear([-1000,1000],[201,329]),y=d3.scaleLinear([5,20],[393,300]);
 blockProfile(iData,x,y,C.purple);
 axL(y,201,[5,10,15,20]); axB(x,393,[-500,0,500,1000]);
 T(265,293,"γH2AX",{a:"middle",s:9}); legend(304,C.purple);
 T(265,418,"Kilobases from cut site",{a:"middle",s:9});}
// ---- j / k / l ----
function tri(x,y,ct,ta,gg){dots(gg,x,y,1.6,C.gg); dots(ta,x,y,1.6,C.ta); dots(ct,x,y,1.6,C.ct);}
{L(359,286,"j");
 const x=d3.scaleLinear([0,50],[393,494]),y=d3.scaleLinear([0,500],[389,287]);
 axL(y,393,[0,100,200,300,400,500]); axB(x,389,[0,10,20,30,40,50]);
 tri(x,y,jCT,jTA,jGG); R(403,295,rVals.j);
 T(443,416,"MRE11 enrichment",{a:"middle",s:9}); T(365,338,"γH2AX enrichment",{a:"middle",r:1,s:9});
 svg.append("rect").attr("x",467).attr("y",349).attr("width",29).attr("height",34).attr("rx",3).attr("fill","#fff").attr("stroke","#888").attr("stroke-width",0.8);
 [["CT",C.ct],["TA",C.ta],["GG",C.gg]].forEach((e,i)=>{svg.append("circle").attr("cx",472).attr("cy",356+i*11).attr("r",1.8).attr("fill",e[1]); T(476,359+i*11,e[0],{s:9});});}
{L(521,286,"k");
 const x=d3.scaleLinear([0,50],[555,660]),y=d3.scaleLinear([0,800],[389,287]);
 axL(y,555,[0,200,400,600,800]); axB(x,389,[0,10,20,30,40,50]);
 tri(x,y,kCT,kTA,kGG); R(565,295,rVals.k);
 T(608,416,"MRE11 enrichment",{a:"middle",s:9}); T(534,338,"53BP1 enrichment",{a:"middle",r:1,s:9});}
{L(73,441,"l");
 const x=d3.scaleLinear([0,50],[105,212]),y=d3.scaleLinear([0,50],[547,443]);
 axL(y,105,[0,10,20,30,40,50]); axB(x,547,[0,10,20,30,40,50]);
 tri(x,y,lCT,lTA,lGG); R(113,454,rVals.l);
 T(158,572,"MRE11 enrichment",{a:"middle",s:9}); T(82,495,"Cas9 enrichment",{a:"middle",r:1,s:9});}
// ---- m / n ----
{L(230,441,"m");
 const x=d3.scaleLinear([-1000,1000],[262,390]),y=d3.scaleLinear([0,7],[545,441]);
 profile(mCurve,x,y,C.green); axL(y,262,[0,1,2,3,4,5,6,7]); axB(x,545,[-1000,-500,0,500,1000]);
 T(243,497,"RPM",{a:"middle",r:1,s:9}); T(326,572,"Base pairs from cut site",{a:"middle",s:9});}
{L(420,441,"n");
 const x=d3.scaleLinear([-1000,1000],[453,572]),y=d3.scaleLinear([0,2.5],[545,440]);
 profile(nCurve,x,y,C.orange); axL(y,453,[0,0.5,1,1.5,2,2.5]); axB(x,545,[-1000,-500,0,500,1000]);
 T(428,497,"RPM",{a:"middle",r:1,s:9}); T(512,572,"Base pairs from cut site",{a:"middle",s:9});}
// ---- o / p / q / r ----
{L(2,597,"o");
 const x=d3.scaleLinear([0,30],[40,147]),y=d3.scaleLinear([0,50],[702,598]);
 axL(y,40,[0,10,20,30,40,50]); axB(x,702,[0,10,20,30]);
 dots(oGrey,x,y,1.3,"#8c8c8c"); dots(oBlack,x,y,2.4,"#000");
 R(103,604,rVals.o[0],"#8c8c8c"); R(104,615,rVals.o[1],"#111");
 T(86,728,"HEK293T MRE11 RPM",{a:"middle",s:9}); T(15,650,"iPSC MRE11 RPM",{a:"middle",r:1,s:9});}
{L(170,596,"p");
 const x=d3.scaleLinear([0,30],[199,306]),y=d3.scaleLinear([0,80],[702,600]);
 axL(y,199,[0,10,20,30,40,50,60,70,80],{tp:2}); axB(x,702,[0,10,20,30]);
 dots(pGrey,x,y,1.3,"#8c8c8c"); dots(pBlack,x,y,2.4,"#000");
 R(263,604,rVals.p[0],"#8c8c8c"); R(263,615,rVals.p[1],"#111");
 T(226,728,"HEK293T Cas9 RPM",{a:"middle",s:9}); T(182,650,"iPSC Cas9 RPM",{a:"middle",r:1,s:8.5});}
{L(329,598,"q");
 const x=d3.scaleLinear([0,50],[358,463]),y=d3.scaleLinear([0,40],[702,602]);
 axL(y,358,[0,10,20,30,40]); axB(x,702,[0,10,20,30,40,50]);
 dots(qPts,x,y,1.9,"#000"); R(437,608,rVals.q);
 T(411,728,"MRE11 RPM (rep1)",{a:"middle",s:9}); T(336,650,"MRE11 RPM (rep2)",{a:"middle",r:1,s:9});}
{L(483,599,"r");
 const x=d3.scaleLinear([0,50],[516,621]),y=d3.scaleLinear([0,80],[702,602]);
 axL(y,516,[0,10,20,30,40,50,60,70,80],{tp:2}); axB(x,702,[0,10,20,30,40,50]);
 dots(rPts,x,y,1.9,"#000"); R(593,608,rVals.r);
 T(568,728,"Cas9 RPM (rep1)",{a:"middle",s:9}); T(492,650,"Cas9 RPM (rep2)",{a:"middle",r:1,s:8.5});}
</script></body></html>
